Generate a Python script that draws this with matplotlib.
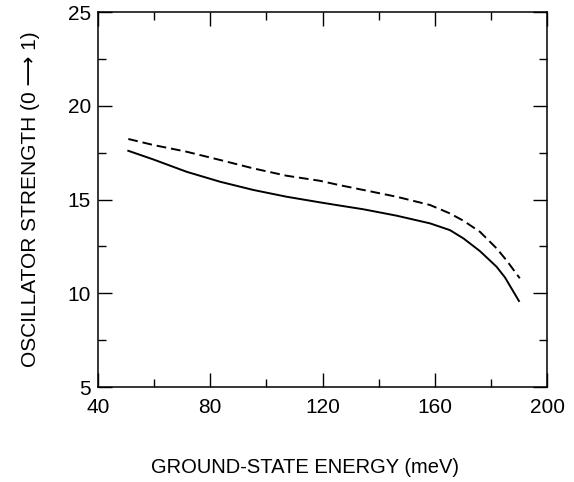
import matplotlib
matplotlib.use("Agg")
import matplotlib.pyplot as plt
from matplotlib.ticker import MultipleLocator

plt.rcParams['font.family'] = ['Liberation Sans', 'DejaVu Sans']

# solid curve
energy_solid = [50.8, 59.7, 71.6, 83.5, 95.4, 107.2, 119.1, 125.7, 134.6, 146.4,
                158.3, 165.4, 170.2, 176.1, 182.0, 185.0, 190.0]
strength_solid = [17.60, 17.14, 16.48, 15.95, 15.51, 15.15, 14.85, 14.69, 14.48, 14.14,
                  13.73, 13.37, 12.93, 12.25, 11.42, 10.85, 9.59]

# dashed curve
energy_dashed = [50.8, 59.7, 71.6, 83.5, 95.4, 107.2, 119.1, 125.7, 134.6, 146.4,
                 158.3, 165.4, 170.2, 176.1, 182.0, 185.5, 190.3]
strength_dashed = [18.23, 17.91, 17.55, 17.11, 16.66, 16.27, 16.00, 15.78, 15.51, 15.15,
                   14.71, 14.26, 13.87, 13.28, 12.40, 11.77, 10.80]

fig = plt.figure(figsize=(5.74, 4.82), dpi=100)
ax = fig.add_axes([0.1707, 0.197, 0.7823, 0.778])

ax.plot(energy_solid, strength_solid, color='black', lw=1.4)
ax.plot(energy_dashed, strength_dashed, color='black', lw=1.4, dashes=(5, 2.5))

ax.set_xlim(40, 200)
ax.set_ylim(5, 25)
ax.xaxis.set_major_locator(MultipleLocator(40))
ax.xaxis.set_minor_locator(MultipleLocator(20))
ax.yaxis.set_major_locator(MultipleLocator(5))
ax.yaxis.set_minor_locator(MultipleLocator(2.5))

ax.tick_params(which='both', direction='in', top=True, right=True, width=1.0, labelsize=15)
ax.tick_params(which='major', length=10)
ax.tick_params(which='minor', length=6)
ax.tick_params(axis='x', pad=8)
ax.tick_params(axis='y', pad=5)
for s in ax.spines.values():
    s.set_linewidth(1.1)

ax.set_xlabel("GROUND-STATE ENERGY (meV)", fontsize=14.5)
ax.set_ylabel("OSCILLATOR STRENGTH (0 \u27f6 1)", fontsize=15)
ax.xaxis.set_label_coords(0.46, -0.19)
ax.yaxis.set_label_coords(-0.13, 0.5)

fig.savefig("out.png", dpi=100)
